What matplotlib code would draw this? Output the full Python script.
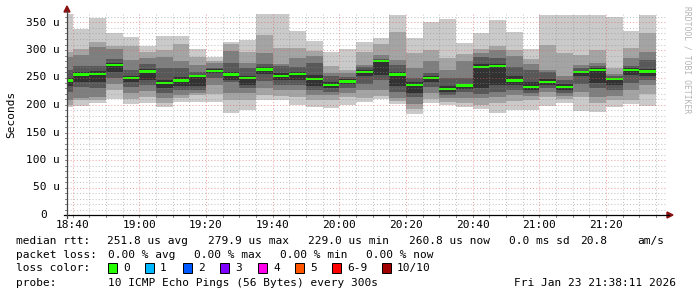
import matplotlib
matplotlib.use('Agg')
import matplotlib.pyplot as plt
from matplotlib.lines import Line2D
from matplotlib.patches import Polygon, Rectangle

# ---------------- data (values in microseconds) ----------------
# column end times (5-minute steps), minutes since midnight 18:40 .. 21:35
col_end_min = [1120 + 5 * i for i in range(36)]
x_tick_labels = ["18:40", "19:00", "19:20", "19:40", "20:00", "20:20", "20:40", "21:00", "21:20"]
x_tick_pos = [1120, 1140, 1160, 1180, 1200, 1220, 1240, 1260, 1280]

# sorted ping rtts per column (ping01 = fastest ... ping10 = slowest)
ping01 = [196,198,204,211,202,204,196,205,205,205,185,191,209,209,200,196,195,200,205,211,202,184,204,200,196,193,185,191,191,198,204,189,187,196,202,198]
ping02 = [200,209,209,227,211,215,204,213,218,220,209,209,218,216,215,209,209,215,213,216,207,193,211,205,204,200,204,207,209,215,211,215,204,209,209,220]
ping03 = [209,213,215,238,222,225,213,218,222,236,222,222,231,227,227,218,218,222,227,227,213,202,222,213,213,213,215,218,216,224,216,224,215,216,227,236]
ping04 = [224,233,231,250,233,236,222,227,227,249,242,231,244,236,236,227,224,231,238,245,224,215,233,218,224,220,224,227,222,231,222,238,231,227,240,245]
ping05 = [235,242,242,260,242,245,231,235,235,258,245,236,256,245,245,235,231,238,253,255,235,222,242,224,229,231,236,236,227,236,227,253,240,236,255,253]
ping06 = [249,260,262,276,253,265,245,251,255,265,260,253,269,258,260,255,242,247,264,282,260,242,253,235,238,275,275,253,242,247,238,262,267,249,267,265]
ping07 = [264,271,271,284,264,275,267,267,260,267,276,267,275,271,269,276,253,251,269,284,273,249,258,249,249,287,285,269,264,260,245,267,271,253,271,282]
ping08 = [287,291,305,302,282,285,287,280,273,276,298,276,295,275,285,289,258,258,273,291,282,267,280,264,280,295,300,289,275,264,253,273,276,256,285,296]
ping09 = [296,302,315,307,307,296,300,311,287,280,311,296,327,304,304,298,271,264,296,311,333,295,300,285,293,302,307,300,284,309,295,291,300,267,304,331]
ping10 = [365,338,358,331,324,307,326,326,302,287,315,318,365,365,335,316,296,302,315,322,364,322,351,356,313,331,355,333,302,364,364,364,364,360,335,364]
median_rtt = [245,255,256,273,249,261,240,245,253,262,255,249,265,253,256,247,236,243,260,280,255,236,249,229,235,269,271,245,233,242,233,260,264,247,264,261]

y_ticks = [0, 50, 100, 150, 200, 250, 300, 350]

loss_labels = ["0", "1", "2", "3", "4", "5", "6-9", "10/10"]
loss_colors = ["#26ff00", "#00b8ff", "#0059ff", "#7e00ff", "#ff00ea", "#ff5500", "#ff0000", "#a10000"]

# ---------------- figure ----------------
W, H = 697, 297
fig = plt.figure(figsize=(W / 100, H / 100), dpi=100)
fig.patch.set_facecolor('white')

def fx(x):
    return x / W

def fy(y):
    return 1 - y / H

MONO = 'DejaVu Sans Mono'
FS = 8

ax = fig.add_axes([fx(67), (H - 215) / H, 600 / W, 200.75 / H])
ax.set_facecolor('white')
x0 = 1118.35
ax.set_xlim(x0, x0 + 180)
ax.set_ylim(0, 365)
for s in ax.spines.values():
    s.set_visible(False)
ax.set_xticks([])
ax.set_yticks([])

# smoke bands: outer (lightest) to inner (darkest)
lows = [ping01, ping02, ping03, ping04, ping05]
highs = [ping10, ping09, ping08, ping07, ping06]
grays = ["#cacaca", "#a4a4a4", "#7e7e7e", "#585858", "#323232"]
lefts = [t - 5 for t in col_end_min]
for lo, hi, g in zip(lows, highs, grays):
    ax.bar(lefts, [h - l for h, l in zip(hi, lo)], bottom=lo, width=5, align='edge',
           color=g, linewidth=0, zorder=2)

# median line (loss color 0)
mh = 4.6
ax.bar(lefts, [mh] * len(median_rtt), bottom=[m - mh / 2 for m in median_rtt], width=5,
       align='edge', color=loss_colors[0], linewidth=0, zorder=3)

# grid (drawn on top, like rrdtool)
minor_c = (0.55, 0.55, 0.55, 0.5)
major_c = (0.9, 0.35, 0.35, 0.55)
for t in range(1120, 1300, 5):
    c = major_c if (t - 1120) % 20 == 0 else minor_c
    ax.axvline(t, color=c, lw=0.75, ls=(0, (1, 2)), zorder=4)
for v in range(10, 366, 10):
    c = major_c if v % 50 == 0 else minor_c
    ax.axhline(v, color=c, lw=0.75, ls=(0, (1, 2)), zorder=4)

# y tick labels
for v in y_ticks:
    if v == 0:
        ax.annotate("0", xy=(0, v), xycoords=('axes fraction', 'data'), xytext=(-20, 0),
                    textcoords='offset pixels', ha='right', va='center', family=MONO, fontsize=FS)
    else:
        ax.annotate(f"{v} u", xy=(0, v), xycoords=('axes fraction', 'data'), xytext=(-7, 0),
                    textcoords='offset pixels', ha='right', va='center', family=MONO, fontsize=FS)

# x tick labels
for t, lab in zip(x_tick_pos, x_tick_labels):
    ax.annotate(lab, xy=(t, 0), xycoords=('data', 'axes fraction'), xytext=(0, -10),
                textcoords='offset pixels', ha='center', va='center', family=MONO, fontsize=FS)

# small ticks outside axes
for t in range(1120, 1300, 5):
    ax.plot([t, t], [0, -2.4 / 200.75], transform=ax.get_xaxis_transform(),
            color='#888888', lw=0.7, clip_on=False, zorder=5)
for v in range(0, 366, 10):
    ax.plot([0, -2 / 600], [v, v], transform=ax.get_yaxis_transform(),
            color='#888888', lw=0.7, clip_on=False, zorder=5)

# axes lines and arrows
fig.add_artist(Line2D([fx(64), fx(669)], [fy(215), fy(215)], color='black', lw=0.9))
fig.add_artist(Line2D([fx(67), fx(67)], [fy(218), fy(11)], color='#444444', lw=0.9))
arrow_c = '#8b1010'
fig.add_artist(Polygon([(fx(667), fy(212)), (fx(667), fy(218)), (fx(673), fy(215))],
                       closed=True, color=arrow_c, transform=fig.transFigure))
fig.add_artist(Polygon([(fx(64), fy(12)), (fx(70), fy(12)), (fx(67), fy(6))],
                       closed=True, color=arrow_c, transform=fig.transFigure))

# axis title
fig.text(fx(11), fy(114), "Seconds", rotation=90, ha='center', va='center', family=MONO, fontsize=FS)

# watermark
fig.text(fx(687), fy(60), "RRDTOOL / TOBI OETIKER", rotation=-90, ha='center', va='center',
         family=MONO, fontsize=5.8, color='#b4b4b4')

# legend lines
def t(x, y, s):
    fig.text(fx(x), fy(y), s, ha='left', va='center', family=MONO, fontsize=FS, color='black')

t(16, 241, "median rtt:")
for x, s in [(107, "251.8 us avg"), (208, "279.9 us max"), (308, "229.0 us min"),
             (409, "260.8 us now"), (509, "0.0 ms sd"), (580, "20.8"), (637, "am/s")]:
    t(x, 241, s)

t(16, 255, "packet loss:")
for x, s in [(108, "0.00 % avg"), (194, "0.00 % max"), (280, "0.00 % min"), (366, "0.00 % now")]:
    t(x, 255, s)

t(16, 268, "loss color:")
box_x = [108, 145, 183, 220, 258, 295, 332, 382]
for bx, lab, col in zip(box_x, loss_labels, loss_colors):
    fig.add_artist(Rectangle((fx(bx), fy(273)), 9 / W, 10 / H, transform=fig.transFigure,
                             facecolor=col, edgecolor='black', lw=0.7))
    t(bx + 15, 268, lab)

t(16, 283, "probe:")
t(108, 283, "10 ICMP Echo Pings (56 Bytes) every 300s")
t(514, 283, "Fri Jan 23 21:38:11 2026")

fig.savefig("out.png", dpi=100, facecolor='white')
